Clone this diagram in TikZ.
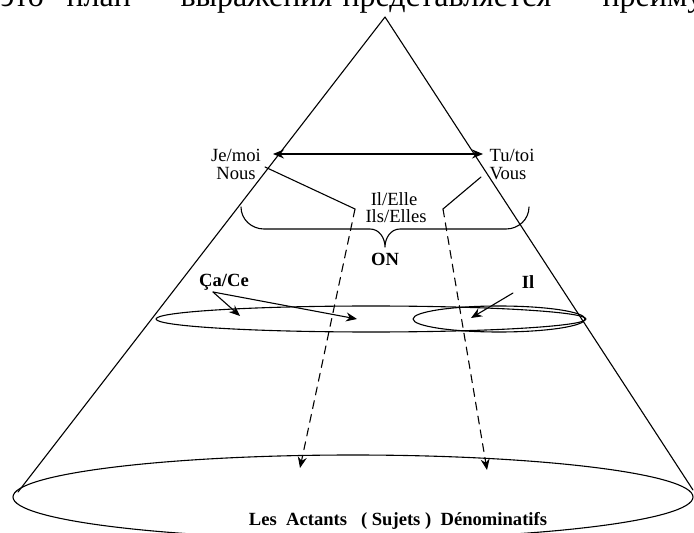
\documentclass[tikz,border=0pt]{standalone}
\usepackage{fontspec}
\setmainfont{Liberation Serif}
\usetikzlibrary{arrows.meta}
\tikzset{
  pron/.style={font=\fontsize{9.3}{10}\selectfont, inner sep=0pt},
  bpron/.style={font=\fontsize{9.3}{10}\selectfont\bfseries, inner sep=0pt},
  head/.style={font=\fontsize{16}{17}\selectfont, inner sep=0pt, anchor=base west},
  dash line/.style={dash pattern=on 4pt off 3pt},
}
\begin{document}
\begin{tikzpicture}[>={Stealth[length=5.5pt,width=4.5pt]}, x=0.5pt, y=-0.5pt, line join=round, line cap=round, line width=0.55pt]
        \useasboundingbox (0,0) rectangle (694,533);
        \coordinate (apex) at (385,17); \coordinate (bl) at (18,492); \coordinate (br) at (693,490);
        \begin{scope}
          \clip (0,0) rectangle (694,533);
          \node[head] (w1) at (0,7) {это};
          \node[head] (w2) at (66,7) {план};
          \node[head] (w3) at (180,7) {выражения};
          \node[head] (w4) at (342,7) {представляется};
          \node[head] (w5) at (602,7) {преимущественно};
          \draw (353,497) circle [x radius=340, y radius=42];
        \end{scope}
        \draw (bl) -- (apex) -- (br);
        % pronouns of the top level
        \node[pron] (je) at (236,155) {Je/moi};
        \node[pron] (nous) at (236,174) {Nous};
        \node[pron] (tu) at (512,155) {Tu/toi};
        \node[pron] (vous) at (508,174) {Vous};
        \node[pron] (il) at (394,199) {Il/Elle};
        \node[pron] (ils) at (396,216) {Ils/Elles};
        \coordinate (tipJe) at (273,154); \coordinate (tipTu) at (483,154);
        \draw[<->] (tipJe) -- (tipTu);
        \coordinate (nousEnd) at (265,167); \coordinate (leftKnee) at (355,209); \coordinate (leftTip) at (300,468);
        \coordinate (vousEnd) at (481,177); \coordinate (rightKnee) at (443,209); \coordinate (rightTip) at (487,470);
        \draw (nousEnd) -- (leftKnee);
        \draw[dash line,->] (leftKnee) -- (leftTip);
        \draw (vousEnd) -- (rightKnee);
        \draw[dash line,->] (rightKnee) -- (rightTip);
        % the brace
        \draw (241,207) to[out=-90,in=180] (264,229) -- (370,229) to[out=0,in=90] (385,247)
              to[out=90,in=180] (400,229) -- (506,229) to[out=0,in=-90] (529,207);
        \node[bpron] (on) at (385,259) {ON};
        % middle level
        \draw (371,319) circle [x radius=215, y radius=13];
        \draw (499,319) circle [x radius=86, y radius=13];
        \node[bpron] (ca) at (224,282) {Ça/Ce};
        \node[bpron] (il2) at (528,282) {Il};
        \coordinate (caFoot) at (213,292); \coordinate (caTipA) at (240,316); \coordinate (caTipB) at (357,319);
        \coordinate (ilFoot) at (513,293); \coordinate (ilTip) at (471,318);
        \draw[->] (caFoot) -- (caTipA);
        \draw[->] (caFoot) -- (caTipB);
        \draw[->] (ilFoot) -- (ilTip);
        \node[bpron] (actants) at (398,521) {Les\ \ Actants\ \ \ ( Sujets )\ \ Dénominatifs};
    \end{tikzpicture}
\end{document}
